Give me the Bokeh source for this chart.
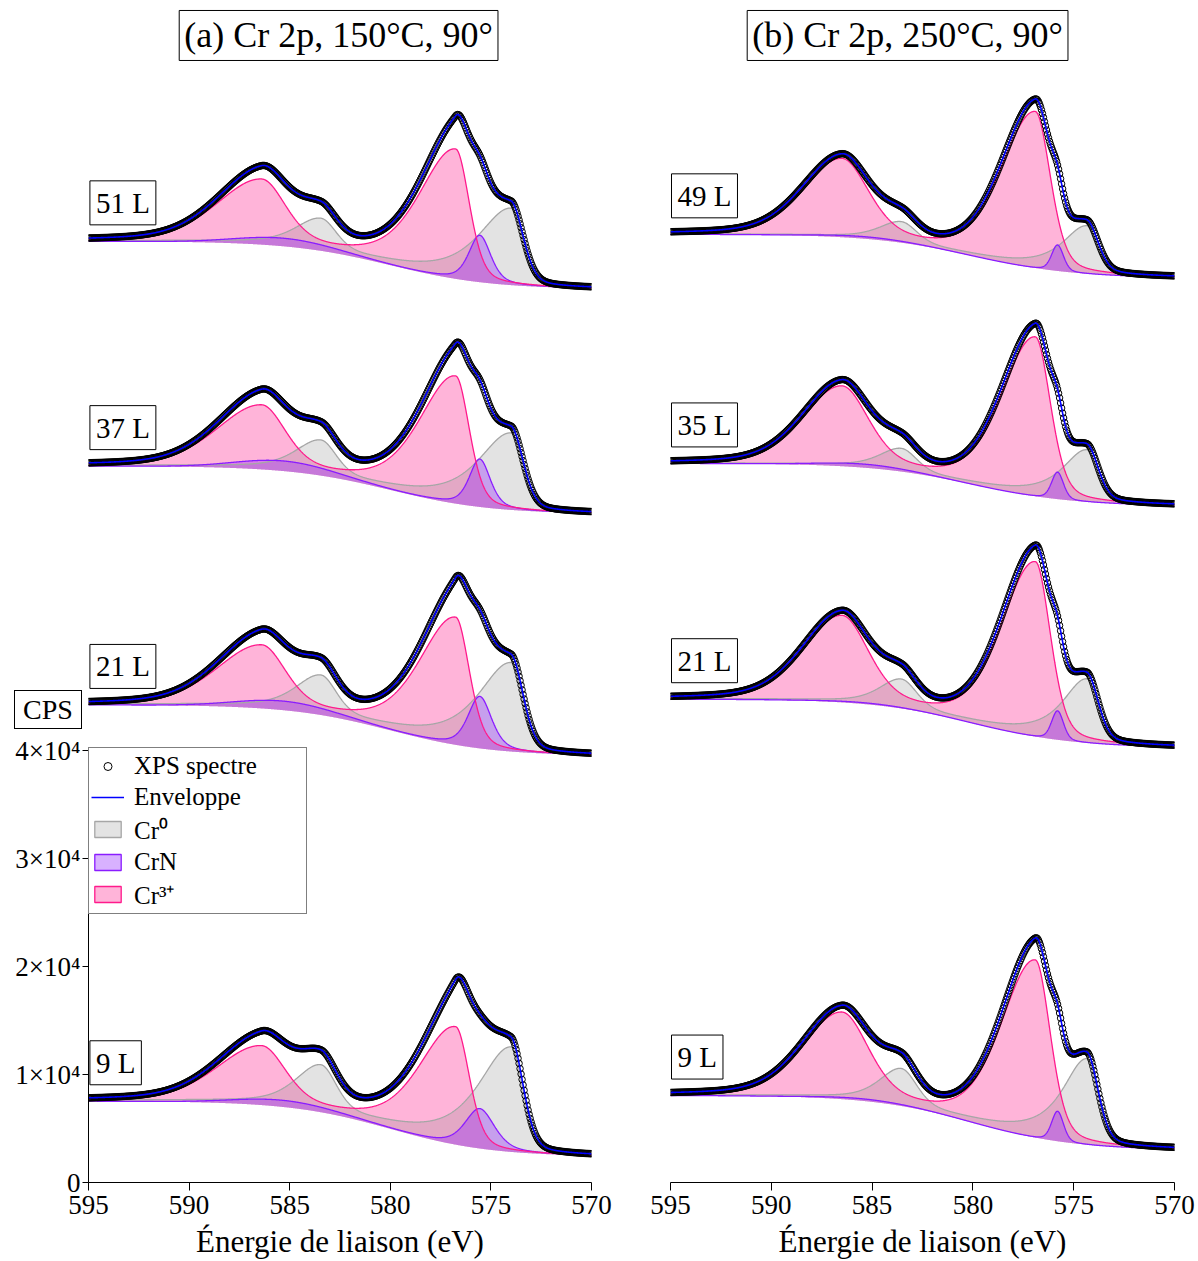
import numpy as np
from bokeh.plotting import figure
from bokeh.models import Range1d, Label, Legend, LegendItem, FixedTicker, Div
from bokeh.layouts import row
from bokeh.embed import file_html
from bokeh.resources import INLINE

FONT = "Liberation Serif"

# ---------------- values ----------------
x_ticks = [595, 590, 585, 580, 575, 570]
y_ticks = [0, 10000, 20000, 30000, 40000]
y_tick_labels = ["0", "1×10⁴", "2×10⁴", "3×10⁴", "4×10⁴"]
titles = ["(a) Cr 2p, 150°C, 90°", "(b) Cr 2p, 250°C, 90°"]
legend_labels = ["XPS spectre", "Enveloppe", "Cr⁰", "CrN", "Cr³⁺"]
x_label = "Énergie de liaison (eV)"
y_label = "CPS"

# panel (a) : 150 °C   (counts, CPS)
doses_a = ["51 L", "37 L", "21 L", "9 L"]
bg_high_a = [87220, 66390, 44260, 7530]     # background at 595 eV
bg_low_a = [82870, 62040, 39630, 2500]      # background at 570 eV
cr3_32_a = [12000, 11800, 11800, 10900]     # Cr3+ 2p3/2 height
cr3_12_a = [5830, 5740, 5650, 5280]         # Cr3+ 2p1/2 height
cr0_32_a = [7130, 7130, 8240, 9720]         # Cr0 2p3/2 height
cr0_12_a = [2780, 3060, 3430, 4070]         # Cr0 2p1/2 height
crn_32_a = [4350, 4440, 4820, 3700]         # CrN 2p3/2 height
crn_12_a = [740, 930, 830, 600]             # CrN 2p1/2 height
crn_fwhm_a = [1.3, 1.25, 1.4, 1.75]         # CrN 2p3/2 FWHM (eV)

# panel (b) : 250 °C
doses_b = ["49 L", "35 L", "21 L", "9 L"]
bg_high_b = [87870, 66640, 44790, 8060]
bg_low_b = [83910, 62780, 40400, 3120]
cr3_32_b = [14450, 14720, 16150, 16400]
cr3_12_b = [7130, 7270, 7870, 7870]
cr0_32_b = [4440, 4820, 5930, 7960]
cr0_12_b = [1850, 2040, 2590, 3290]
crn_32_b = [2410, 2500, 2690, 2780]
crn_12_b = [190, 330, 120, 190]
crn_fwhm_b = [0.7, 0.7, 0.7, 0.7]

# peak line shapes:
# centre (eV), FWHM high-BE side, FWHM low-BE side, Lorentz fraction high side, low side
shape_a = {
    "cr3_32": (576.75, 4.3, 1.6, 0.45, 0.3),
    "cr3_12": (586.40, 5.2, 2.8, 0.3, 0.3),
    "cr0_32": (574.00, 4.0, 1.4, 0.8, 0.2),
    "cr0_12": (583.45, 3.0, 1.8, 0.6, 0.3),
    "crn_32": (575.55, 0.0, 0.0, 0.5, 0.5),
    "crn_12": (585.30, 5.5, 5.5, 0.0, 0.0),
}
shape_b = {
    "cr3_32": (576.90, 4.0, 1.75, 0.3, 0.3),
    "cr3_12": (586.50, 4.6, 3.1, 0.3, 0.3),
    "cr0_32": (574.35, 3.0, 1.3, 0.9, 0.2),
    "cr0_12": (583.55, 2.6, 1.8, 0.6, 0.3),
    "crn_32": (575.80, 0.0, 0.0, 0.3, 0.3),
    "crn_12": (585.40, 5.0, 5.0, 0.0, 0.0),
}
bg_step_centre = 580.0   # eV, centre of the background step
bg_step_width = 2.5      # eV

# ---------------- layout / style ----------------
PX = 1e4 / 108.0          # counts per screen pixel
H = 1261
FRAME_BOTTOM = 1183
YTOP = FRAME_BOTTOM * PX
PINK_LINE, PINK_FILL = "#ff1a8c", "#ff69b4"
GRAY_LINE, GRAY_FILL = "#a6a6a6", "#808080"
PURP_LINE, PURP_FILL = "#8a1cff", "#9020ff"
BLUE = "#0000ff"


def peak(E, shape, h, fwhm=None):
    c, wl, wr, ml, mr = shape
    if fwhm is not None:
        wl = wr = fwhm
    dx = E - c
    w = np.where(dx > 0, wl, wr)
    m = np.where(dx > 0, ml, mr)
    t = (dx / w) ** 2
    return h * ((1 - m) * np.exp(-4 * np.log(2) * t) + m / (1 + 4 * t))


def background(E, hi, lo):
    f = lambda e: 1.0 / (1.0 + np.exp(-(e - bg_step_centre) / bg_step_width))
    return lo + (hi - lo) * (f(E) - f(570.0)) / (f(595.0) - f(570.0))


def make_fig(width, bl, br, with_y):
    p = figure(width=width, height=H, x_range=Range1d(595, 570), y_range=Range1d(0, YTOP),
               output_backend="svg", toolbar_location=None,
               min_border_left=bl, min_border_right=br, min_border_top=0,
               min_border_bottom=H - FRAME_BOTTOM)
    p.outline_line_color = None
    p.xgrid.visible = False
    p.ygrid.visible = False
    ax = p.xaxis[0]
    ax.ticker = FixedTicker(ticks=x_ticks)
    ax.major_label_text_font = FONT
    ax.major_label_text_font_size = "27px"
    ax.major_label_text_color = "black"
    ax.axis_line_color = "black"
    ax.major_tick_line_color = "black"
    ax.major_tick_out = 8
    ax.major_tick_in = 0
    ax.minor_tick_out = 0
    ax.minor_tick_in = 0
    ax.major_label_standoff = 5
    ax.axis_label = x_label
    ax.axis_label_text_font = FONT
    ax.axis_label_text_font_size = "31px"
    ax.axis_label_text_font_style = "normal"
    ax.axis_label_text_color = "black"
    ax.axis_label_standoff = 7
    if with_y:
        ay = p.yaxis[0]
        ay.ticker = FixedTicker(ticks=y_ticks)
        ay.major_label_overrides = {t: l for t, l in zip(y_ticks, y_tick_labels)}
        ay.bounds = (0, 40000)
        ay.major_label_text_font = FONT
        ay.major_label_text_font_size = "27px"
        ay.major_label_text_color = "black"
        ay.axis_line_color = "black"
        ay.major_tick_out = 6
        ay.major_tick_in = 0
        ay.minor_tick_out = 0
        ay.minor_tick_in = 0
        ay.major_label_standoff = 2
    else:
        p.yaxis.visible = False
    return p


def boxed(p, x, y, text, size, align="center", pad=5):
    p.add_layout(Label(x=x, y=y, text=text, text_font=FONT, text_font_size=size,
                       text_align=align, text_baseline="middle", text_color="black",
                       border_line_color="black", border_line_width=1,
                       background_fill_color="white", padding=pad))


def draw_panel(p, doses, hi, lo, c32, c12, z32, z12, n32, n12, nf, shape, tag_x):
    E = np.linspace(570, 595, 1251)
    Ed = np.linspace(570, 595, 501)
    rend = {}
    for i in range(len(doses)):
        def comps(x):
            b = background(x, hi[i], lo[i])
            c3 = peak(x, shape["cr3_32"], c32[i]) + peak(x, shape["cr3_12"], c12[i])
            c0 = peak(x, shape["cr0_32"], z32[i]) + peak(x, shape["cr0_12"], z12[i])
            cn = peak(x, shape["crn_32"], n32[i], nf[i]) + peak(x, shape["crn_12"], n12[i])
            return b, c3, c0, cn
        b, c3, c0, cn = comps(E)
        p.varea(x=E, y1=b, y2=b + c3, fill_color=PINK_FILL, fill_alpha=0.5)
        p.varea(x=E, y1=b, y2=b + c0, fill_color=GRAY_FILL, fill_alpha=0.22)
        p.varea(x=E, y1=b, y2=b + cn, fill_color=PURP_FILL, fill_alpha=0.35)
        p.line(E, b + c0, line_color=GRAY_LINE, line_width=1.3)
        p.line(E, b + cn, line_color=PURP_LINE, line_width=1.3)
        p.line(E, b + c3, line_color=PINK_LINE, line_width=1.3)
        bd, c3d, c0d, cnd = comps(Ed)
        rend["pts"] = p.scatter(Ed, bd + c3d + c0d + cnd, marker="circle", size=6.5,
                                fill_color=None, line_color="black", line_width=1)
        rend["env"] = p.line(E, b + c3 + c0 + cn, line_color=BLUE, line_width=1.6)
        # dose tag, about 38 px above the background at 595 eV
        boxed(p, tag_x, hi[i] + 38.5 * PX, doses[i], "29px", align="left", pad=6)
    return rend


# left panel (a)
pa = make_fig(613, 88, 22, True)
ra = draw_panel(pa, doses_a, bg_high_a, bg_low_a, cr3_32_a, cr3_12_a, cr0_32_a, cr0_12_a,
                crn_32_a, crn_12_a, crn_fwhm_a, shape_a, 594.93)
boxed(pa, 582.57, (FRAME_BOTTOM - 35) * PX, titles[0], "36px", pad=5)

dummy = dict(left=[600], right=[601], top=[-5e4], bottom=[-6e4])
q_cr0 = pa.quad(**dummy, fill_color=GRAY_FILL, fill_alpha=0.22, line_color=GRAY_LINE, line_width=1.3)
q_crn = pa.quad(**dummy, fill_color=PURP_FILL, fill_alpha=0.35, line_color=PURP_LINE, line_width=1.3)
q_cr3 = pa.quad(**dummy, fill_color=PINK_FILL, fill_alpha=0.5, line_color=PINK_LINE, line_width=1.3)
legend = Legend(items=[LegendItem(label=legend_labels[0], renderers=[ra["pts"]]),
                       LegendItem(label=legend_labels[1], renderers=[ra["env"]]),
                       LegendItem(label=legend_labels[2], renderers=[q_cr0]),
                       LegendItem(label=legend_labels[3], renderers=[q_crn]),
                       LegendItem(label=legend_labels[4], renderers=[q_cr3])],
                location=(0, 268))
legend.label_text_font = FONT
legend.label_text_font_size = "25px"
legend.label_text_color = "black"
legend.border_line_color = "black"
legend.border_line_width = 1
legend.background_fill_alpha = 1
legend.padding = 2
legend.spacing = 0
legend.margin = 0
legend.label_height = 31
legend.glyph_height = 20
legend.glyph_width = 33
legend.label_standoff = 10
legend.label_width = 170
pa.add_layout(legend)

# right panel (b)
pb = make_fig(585, 57, 24, False)
draw_panel(pb, doses_b, bg_high_b, bg_low_b, cr3_32_b, cr3_12_b, cr0_32_b, cr0_12_b,
           crn_32_b, crn_12_b, crn_fwhm_b, shape_b, 594.95)
boxed(pb, 583.24, (FRAME_BOTTOM - 35) * PX, titles[1], "36px", pad=5)

# "CPS" unit box at the top of the y axis (outside the plot frame)
cps_box = Div(text=('<div style="border:1px solid black;padding:0 8px;'
                    "font-family:'Liberation Serif';font-size:28px;line-height:37px;"
                    'background:white;color:black;white-space:nowrap;">' + y_label + '</div>'),
              margin=0,
              styles={"position": "absolute", "left": "14px", "top": "690px", "z-index": "10"})

layout = row(pa, pb, cps_box)
open("out.html", "w").write(file_html(layout, INLINE))
